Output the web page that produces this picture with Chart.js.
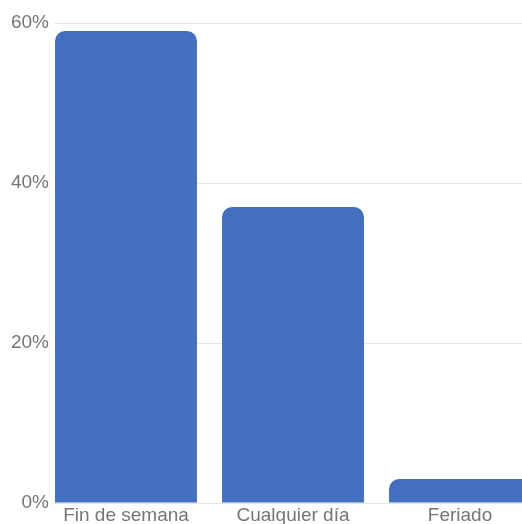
<!DOCTYPE html>
<html>
<head>
<meta charset="utf-8">
<script src="https://cdn.jsdelivr.net/npm/chart.js@4.4.0/dist/chart.umd.min.js"></script>
<style>
  html, body { margin: 0; padding: 0; background: #fff; overflow: hidden; }
  #wrap { width: 522px; height: 524px; }
</style>
</head>
<body>
<div id="wrap"><canvas id="canvas" width="522" height="524"></canvas></div>
<script>
/* Data */
const categories = ["Fin de semana", "Cualquier día", "Feriado"];
const shares = [59, 37, 3];
const yTicks = [0, 20, 40, 60];

/* bars sit on x = 0,1,2 of a linear axis so the first one starts at the plot edge */
const points = shares.map((v, i) => ({ x: i, y: v }));

const gray = "#757575";
const font = { family: "'Liberation Sans', Arial, sans-serif", size: 19 };
const ctx = document.getElementById("canvas").getContext("2d");
window.myChart = new Chart(ctx, {
  type: "bar",
  data: {
    datasets: [
      {
        data: points,
        backgroundColor: "#436fbe",
        borderRadius: { topLeft: 10, topRight: 10, bottomLeft: 0, bottomRight: 0 },
        borderSkipped: "bottom",
        categoryPercentage: 1,
        barPercentage: 0.85,
      },
    ],
  },
  options: {
    responsive: false,
    animation: false,
    layout: { padding: { top: 23, left: 0, right: 0, bottom: 0 } },
    plugins: {
      legend: { display: false },
      tooltip: { enabled: false },
    },
    scales: {
      x: {
        type: "linear",
        bounds: "data",
        offset: false,
        min: -71 / 167,
        max: 396 / 167,
        grid: { display: false, drawTicks: false },
        border: { display: false },
        afterBuildTicks: (scale) => {
          // one tick per category
          scale.ticks = categories.map((c, i) => ({ value: i }));
        },
        afterFit: (scale) => {
          scale.height = 21;
        },
        ticks: {
          autoSkip: false,
          maxRotation: 0,
          padding: 1,
          color: gray,
          font: font,
          callback: (v) => categories[v],
        },
      },
      y: {
        min: yTicks[0],
        max: yTicks[yTicks.length - 1],
        grid: { color: "#e5e5e5", drawTicks: false, lineWidth: 1 },
        border: { display: false },
        afterBuildTicks: (scale) => {
          scale.ticks = yTicks.map((v) => ({ value: v }));
        },
        afterFit: (scale) => {
          scale.width = 55;
        },
        ticks: {
          padding: 6,
          color: gray,
          font: font,
          callback: (v) => v + "%",
        },
      },
    },
  },
});
</script>
</body>
</html>
